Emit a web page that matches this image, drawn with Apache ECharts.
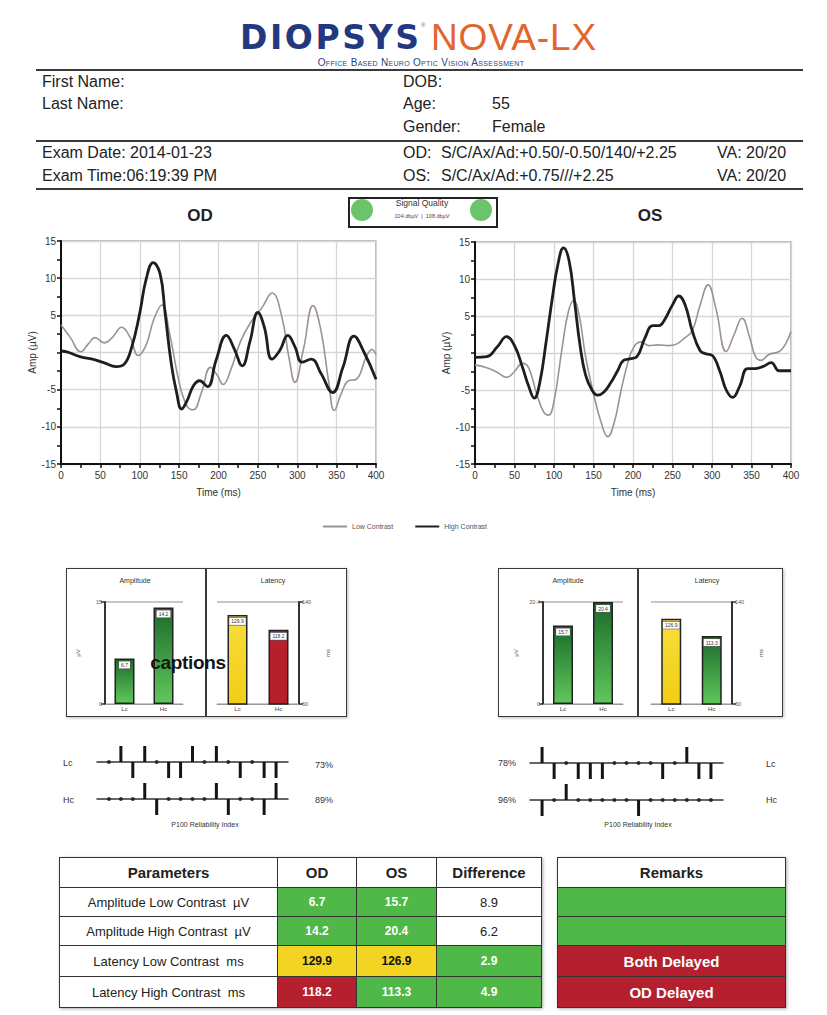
<!DOCTYPE html>
<html><head><meta charset="utf-8">
<script src="https://cdn.jsdelivr.net/npm/echarts@6/dist/echarts.min.js"></script>
<style>
html,body{margin:0;padding:0;background:#fff;}
body{width:827px;height:1015px;position:relative;overflow:hidden;font-family:"Liberation Sans",Arial,sans-serif;color:#222;}
.t{position:absolute;white-space:pre;transform:translateY(-50%);line-height:1;z-index:2;}
.c{transform:translate(-50%,-50%);}
.hl{position:absolute;left:36px;width:767px;height:2px;background:#3a3a3a;}
#chart{position:absolute;left:0;top:0;width:827px;height:1015px;z-index:1;}
.box{position:absolute;border:1.5px solid #3a3a3a;box-shadow:1px 1px 3px #bbb;background:#fff;z-index:0;}
.vd{position:absolute;width:1.5px;background:#3a3a3a;z-index:0;}
table.tb{position:absolute;border-collapse:collapse;z-index:2;table-layout:fixed;box-shadow:1px 1px 3px #aaa;}
table.tb td{border:1.5px solid #333;text-align:center;padding:0;font-size:13px;color:#222;white-space:pre;}
table.tb tr.h td{font-weight:bold;font-size:15px;}
td.g{background:#4fb848;color:#fff !important;font-weight:bold;font-size:12px !important;}
td.y{background:#f4d422;color:#111 !important;font-weight:bold;font-size:12px !important;}
td.r{background:#b4202e;color:#fff !important;font-weight:bold;font-size:12px !important;}
td.w{background:#fff;}
table.rm td.r, table.rm td.g{font-size:15px !important;}
</style></head>
<body>
<div id="chart"></div>
<script>
// ---------------- DATA ----------------
const odLowT  = [0,12,25,35,43,55,65,77,88,98,108,118,128,138,150,160,168,178,190,198,206,215,228,240,255,268,280,290,297,308,320,330,340,347,356,365,375,388,395,400];
const odLowV  = [3.7,2.0,0.1,1.2,2.0,1.3,2.0,3.4,2.0,-0.4,1.0,4.5,6.4,2.5,-4.0,-7.2,-7.7,-5.5,-2.0,-3.0,-4.3,-2.5,1.5,3.9,6.0,8.0,5.0,-1.0,-4.0,0.5,6.3,3.0,-4.0,-7.8,-5.5,-3.8,-3.6,-0.5,0.4,-0.3];
const odHighT = [0,10,25,40,55,70,80,90,100,108,117,126,132,140,147,153,160,168,176,186,197,210,220,230,240,250,258,268,278,288,297,306,318,330,345,358,372,385,400];
const odHighV = [0.2,0.0,-0.6,-0.9,-1.4,-1.9,-1.6,0.8,5.3,9.8,12.1,10.5,5.5,-1.5,-5.5,-7.6,-6.5,-4.5,-3.8,-4.6,-1.0,2.3,0.5,-1.8,1.5,5.4,3.5,-0.9,0.3,2.3,0.8,-1.3,-0.9,-2.8,-5.4,-2.0,2.2,0.0,-3.6];
const osLowT  = [0,15,28,40,50,60,68,78,87,93,100,110,118,125,132,140,150,160,168,176,185,193,200,210,220,232,245,255,265,275,285,295,305,318,328,338,348,355,362,372,385,393,400];
const osLowV  = [-1.6,-2.0,-2.6,-3.3,-2.5,-1.4,-2.0,-5.5,-8.0,-8.4,-6.5,0.5,5.5,7.1,5.0,-0.5,-5.5,-9.5,-11.3,-9.5,-5.0,-1.5,0.6,1.5,1.0,1.1,1.0,1.2,2.0,3.0,6.5,9.2,6.0,0.2,2.5,4.7,2.0,-0.5,-1.0,-0.2,0.2,1.2,2.9];
const osHighT = [0,15,28,40,50,60,68,75,82,90,98,105,112,119,126,133,140,148,155,163,172,180,188,196,205,215,225,233,240,250,258,266,275,285,292,300,310,318,326,335,345,355,365,375,385,400];
const osHighV = [-0.6,-0.5,0.8,2.2,1.0,-1.9,-4.5,-6.1,-4.0,1.5,7.5,12.0,14.2,12.5,7.0,1.0,-3.0,-5.0,-5.7,-5.3,-4.0,-2.5,-1.0,-0.8,-0.5,2.0,3.7,3.7,4.5,6.5,7.7,6.5,3.0,0.3,-0.1,-0.3,-2.5,-5.0,-6.0,-4.5,-2.1,-2.1,-1.8,-1.3,-2.4,-2.4];

const barCats = ['Lc','Hc'];
const odAmp = [6.7, 14.2];
const osAmp = [15.7, 20.4];
const odLat = [129.9, 118.2];
const osLat = [126.9, 113.3];
const odAmpMax = 15, osAmpMax = 20.4, latMin = 60, latMax = 140;

// reliability index marks: 1 = up bar, -1 = down bar, 0 = dot
const relOdLc = [0,1,-1,1,0,-1,-1,1,0,1,0,-1,0,-1,-1];
const relOdHc = [0,0,0,1,-1,0,0,0,0,1,-1,0,0,-1,1];
const relOsLc = [1,-1,0,-1,-1,-1,0,0,0,0,-1,0,1,-1,-1];
const relOsHc = [-1,0,1,0,0,0,0,0,-1,0,0,0,0,0,0];
const relPct = {odLc:'73%', odHc:'89%', osLc:'78%', osHc:'96%'};

const tableParams = ['Amplitude Low Contrast  µV','Amplitude High Contrast  µV','Latency Low Contrast  ms','Latency High Contrast  ms'];
const tableOD   = ['6.7','14.2','129.9','118.2'];
const tableOS   = ['15.7','20.4','126.9','113.3'];
const tableDiff = ['8.9','6.2','2.9','4.9'];
const odStatus   = ['g','g','y','r'];
const osStatus   = ['g','g','y','g'];
const diffStatus = ['w','w','g','g'];
const remarks      = ['','','Both Delayed','OD Delayed'];
const remarkStatus = ['g','g','r','r'];

// ---------------- HTML TEXT / FRAMES ----------------
function T(x,y,txt,css,center){
  const d=document.createElement('div');
  d.className='t'+(center?' c':'');
  d.style.left=x+'px'; d.style.top=y+'px';
  d.textContent=txt; if(css) d.style.cssText+=css;
  document.body.appendChild(d); return d;
}
function el(cls,css){const d=document.createElement('div');d.className=cls;d.style.cssText=css;document.body.appendChild(d);return d;}

// logo
T(240,37,'DIOPSYS','font-family:"DejaVu Sans";font-weight:bold;font-size:33px;color:#22397f;letter-spacing:2.6px;');
T(421,25,'®','font-size:6px;color:#666;');
T(431,37,'NOVA-LX','font-size:37px;color:#e2652b;letter-spacing:0.9px;');
T(421,62.5,'Office Based Neuro Optic Vision Assessment','font-size:10px;font-variant:small-caps;color:#2a3f80;letter-spacing:0.3px;',true);
el('hl','top:69px;'); el('hl','top:140px;'); el('hl','top:188px;');
const hs='font-size:16px;color:#222;';
T(42,82,'First Name:',hs); T(42,104,'Last Name:',hs);
T(403,82,'DOB:',hs); T(403,104,'Age:',hs); T(492,104,'55',hs);
T(403,127,'Gender:',hs); T(492,127,'Female',hs);
T(42,153,'Exam Date: 2014-01-23',hs); T(42,176,'Exam Time:06:19:39 PM',hs);
T(403,153,'OD:',hs); T(441,153,'S/C/Ax/Ad:+0.50/-0.50/140/+2.25',hs); T(717,153,'VA: 20/20',hs);
T(403,176,'OS:',hs); T(441,176,'S/C/Ax/Ad:+0.75///+2.25',hs); T(717,176,'VA: 20/20',hs);

// signal quality
el('box','left:348px;top:197px;width:146px;height:27px;border:2px solid #222;box-shadow:none;z-index:2;background:transparent;');
el('box','left:351px;top:199px;width:22px;height:22px;border:none;border-radius:50%;background:#6cc46a;box-shadow:none;z-index:2;');
el('box','left:470px;top:199px;width:22px;height:22px;border:none;border-radius:50%;background:#6cc46a;box-shadow:none;z-index:2;');
T(422,203,'Signal Quality','font-size:8.5px;color:#333;',true);
T(422,217,'104 dbµV  |  108 dbµV','font-size:5.5px;color:#444;',true);

T(200,215,'OD','font-size:17px;font-weight:bold;',true);
T(650,215,'OS','font-size:17px;font-weight:bold;',true);

// bar boxes
el('box','left:66px;top:568px;width:279px;height:147px;');
el('vd','left:205px;top:568px;height:149px;');
el('box','left:498px;top:568px;width:283px;height:147px;');
el('vd','left:637px;top:568px;height:149px;');
const st='font-size:7px;color:#333;';
T(135,580,'Amplitude',st,true); T(273,580,'Latency',st,true);
T(568,580,'Amplitude',st,true); T(707,580,'Latency',st,true);
T(188,662,'captions','font-size:19px;font-weight:bold;color:#151515;letter-spacing:-0.3px;',true);

// reliability labels
const rs='font-size:9px;color:#333;';
T(63,763,'Lc',rs); T(63,800,'Hc',rs);
T(315,765,relPct.odLc,rs); T(315,800,relPct.odHc,rs);
T(498,763,relPct.osLc,rs); T(498,800,relPct.osHc,rs);
T(766,764,'Lc',rs); T(766,800,'Hc',rs);
T(205,824,'P100 Reliability Index','font-size:7px;color:#333;',true);
T(638,824,'P100 Reliability Index','font-size:7px;color:#333;',true);

// tables
const rowH=[30,29,29,31,31];
function buildTable(left,width,cols,header,rows,cls){
  const tb=document.createElement('table'); tb.className='tb '+(cls||'');
  tb.style.left=left+'px'; tb.style.top='857px'; tb.style.width=width+'px';
  const cg=document.createElement('colgroup');
  cols.forEach(w=>{const c=document.createElement('col');c.style.width=w+'px';cg.appendChild(c);});
  tb.appendChild(cg);
  const hr=document.createElement('tr'); hr.className='h'; hr.style.height=rowH[0]+'px';
  header.forEach(h=>{const td=document.createElement('td');td.textContent=h;hr.appendChild(td);});
  tb.appendChild(hr);
  rows.forEach((r,i)=>{const tr=document.createElement('tr');tr.style.height=rowH[i+1]+'px';
    r.forEach(cell=>{const td=document.createElement('td');td.textContent=cell.t;if(cell.c)td.className=cell.c;tr.appendChild(td);});
    tb.appendChild(tr);});
  document.body.appendChild(tb);
}
buildTable(59,482,[218,79,80,105],['Parameters','OD','OS','Difference'],
  tableParams.map((p,i)=>[{t:p},{t:tableOD[i],c:odStatus[i]},{t:tableOS[i],c:osStatus[i]},{t:tableDiff[i],c:diffStatus[i]}]));
buildTable(557,228,[228],['Remarks'],remarks.map((r,i)=>[{t:r,c:remarkStatus[i]}]),'rm');

// ---------------- ECHARTS ----------------
const chart = echarts.init(document.getElementById('chart'), null, {renderer:'svg'});
const zip=(a,b)=>a.map((v,i)=>[v,b[i]]);
const LOW='#9d9292', HIGH='#1e1e1e';

const grids=[
  {left:61,top:241,width:315,height:223},
  {left:475,top:242,width:316,height:222},
  {left:105,top:602,width:78,height:102},
  {left:217,top:602,width:82,height:102},
  {left:543,top:602,width:80,height:102},
  {left:651,top:602,width:81,height:102},
  {left:97,top:746,width:191,height:32},
  {left:97,top:783,width:191,height:32},
  {left:530,top:747,width:193,height:32},
  {left:530,top:784,width:193,height:32}
];
grids[0].show=grids[1].show=true;
grids[0].borderColor=grids[1].borderColor='#a8a8a8';
grids[0].borderWidth=grids[1].borderWidth=1.5;

function lineX(g){return {gridIndex:g,type:'value',min:0,max:400,interval:50,
  axisLine:{onZero:false,lineStyle:{color:'#111',width:2}},
  axisTick:{show:true,length:4,lineStyle:{color:'#111',width:1.5}},
  minorTick:{show:true,splitNumber:2,length:4,lineStyle:{color:'#111',width:1.5}},
  splitLine:{show:true,lineStyle:{color:'#d6d6d6',width:1.3}},
  axisLabel:{fontSize:10,color:'#333',margin:6,fontFamily:'Liberation Sans'},
  name:'Time (ms)',nameLocation:'middle',nameGap:23,nameTextStyle:{fontSize:10,color:'#333'}};}
function lineY(g){return {gridIndex:g,type:'value',min:-15,max:15,interval:5,
  axisLine:{show:true,onZero:false,lineStyle:{color:'#111',width:2}},
  axisTick:{show:true,length:4,lineStyle:{color:'#111',width:1.5}},
  minorTick:{show:true,splitNumber:2,length:4,lineStyle:{color:'#111',width:1.5}},
  splitLine:{show:true,lineStyle:{color:'#d6d6d6',width:1.3}},
  axisLabel:{fontSize:10,color:'#333',margin:5,formatter:v=>v===0?'':String(v)},
  name:'Amp (µV)',nameLocation:'middle',nameGap:20,nameRotate:90,nameTextStyle:{fontSize:10,color:'#333'}};}
function barX(g){return {gridIndex:g,type:'category',data:barCats,
  axisLine:{show:true,lineStyle:{color:'#999',width:1}},axisTick:{show:false},
  axisLabel:{fontSize:6,color:'#444',margin:2}};}
function barY(g,min,max,intv,pos,nm){return {gridIndex:g,type:'value',min:min,max:max,interval:intv,position:pos,
  axisLine:{show:true,lineStyle:{color:'#333',width:2}},
  axisTick:{show:true,customValues:[min,max],length:4,lineStyle:{color:'#333',width:1.5}},
  axisLabel:{customValues:[min,max],fontSize:5.5,color:'#555',margin:3},
  splitLine:{show:true,lineStyle:{color:'#b5b5b5',width:1.6}},
  name:nm,nameLocation:'middle',nameGap:pos==='left'?24:26,nameRotate:90,nameTextStyle:{fontSize:6,color:'#555'}};}
function relX(g){return {gridIndex:g,type:'value',min:-1,max:15,
  axisLine:{show:true,onZero:true,lineStyle:{color:'#333',width:1.5}},
  axisTick:{show:false},axisLabel:{show:false},splitLine:{show:false}};}
function relY(g){return {gridIndex:g,type:'value',min:-1,max:1,
  axisLine:{show:false},axisTick:{show:false},axisLabel:{show:false},splitLine:{show:false}};}

const xAxis=[lineX(0),lineX(1),barX(2),barX(3),barX(4),barX(5),relX(6),relX(7),relX(8),relX(9)];
const yAxis=[lineY(0),lineY(1),
  barY(2,0,odAmpMax,odAmpMax/8,'left','µV'),barY(3,latMin,latMax,10,'right','ms'),
  barY(4,0,osAmpMax,osAmpMax/8,'left','µV'),barY(5,latMin,latMax,10,'right','ms'),
  relY(6),relY(7),relY(8),relY(9)];

const green={type:'linear',x:0,y:0,x2:0,y2:1,colorStops:[{offset:0,color:'#1c6a2b'},{offset:1,color:'#5fc85b'}]};
const yellow={type:'linear',x:0,y:0,x2:0,y2:1,colorStops:[{offset:0,color:'#f7de3c'},{offset:1,color:'#f1cd16'}]};
const red='#b61f2c';
const fills={g:green,y:yellow,r:red};

function lineS(name,g,t,v,color,w){return {name:name,type:'line',xAxisIndex:g,yAxisIndex:g,data:zip(t,v),
  smooth:0.45,showSymbol:false,symbol:'none',lineStyle:{color:color,width:w},itemStyle:{color:color},z:name==='High Contrast'?3:2};}
function barS(g,vals,cols){return {type:'bar',xAxisIndex:g,yAxisIndex:g,barWidth:20,
  data:vals.map((v,i)=>({value:v,itemStyle:{color:fills[cols[i]],borderColor:'#222',borderWidth:1.5}})),
  label:{show:true,position:'insideTop',distance:3,fontSize:5,color:'#333',backgroundColor:'#fff',borderColor:'#555',borderWidth:0.6,padding:[1,2]}};}
function relS(g,arr){return [
  {type:'bar',xAxisIndex:g,yAxisIndex:g,barWidth:3,itemStyle:{color:'#151515'},
    data:arr.map((v,i)=>[i,v]).filter(d=>d[1]!==0)},
  {type:'scatter',xAxisIndex:g,yAxisIndex:g,symbolSize:4,itemStyle:{color:'#151515'},
    data:arr.map((v,i)=>[i,v]).filter(d=>d[1]===0)}];}

const series=[
  lineS('Low Contrast',0,odLowT,odLowV,LOW,1.6),
  lineS('High Contrast',0,odHighT,odHighV,HIGH,2.8),
  lineS('Low Contrast',1,osLowT,osLowV,LOW,1.6),
  lineS('High Contrast',1,osHighT,osHighV,HIGH,2.8),
  barS(2,odAmp,['g','g']), barS(3,odLat,['y','r']),
  barS(4,osAmp,['g','g']), barS(5,osLat,['y','g']),
  ...relS(6,relOdLc),...relS(7,relOdHc),...relS(8,relOsLc),...relS(9,relOsHc)
];

chart.setOption({
  animation:false,
  backgroundColor:'transparent',
  textStyle:{fontFamily:'Liberation Sans'},
  legend:{left:318,top:518,icon:'rect',itemWidth:24,itemHeight:2,itemGap:22,
    data:['Low Contrast','High Contrast'],textStyle:{fontSize:7,color:'#555'}},
  grid:grids,xAxis:xAxis,yAxis:yAxis,series:series
});
</script>
</body></html>
